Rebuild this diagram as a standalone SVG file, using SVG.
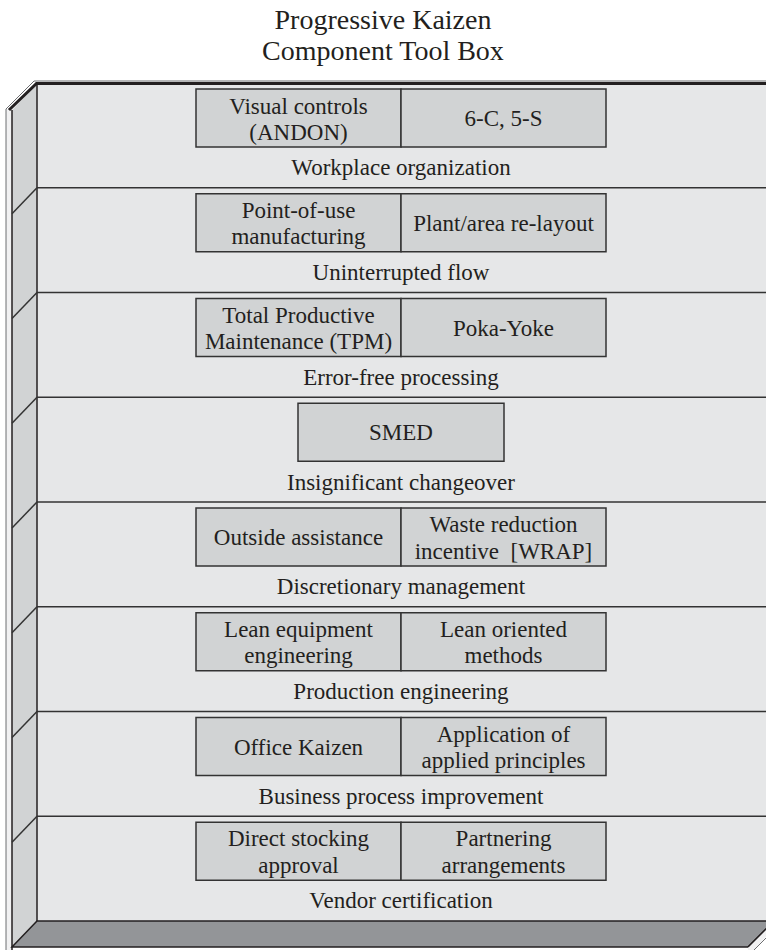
<svg xmlns="http://www.w3.org/2000/svg" width="766" height="950" viewBox="0 0 766 950">
  <style>
    .bg { fill: #ffffff; }
    .panel { fill: #e6e7e8; }
    .side { fill: #d1d3d4; }
    .strip { fill: #f1f1f2; }
    .floor { fill: #939598; stroke: #231f20; stroke-width: 1.5; }
    .edge { fill: none; stroke: #231f20; stroke-width: 1.5; }
    .thin { fill: none; stroke: #6d6e71; stroke-width: 1; }
    .rim { fill: none; stroke: #231f20; stroke-width: 3; }
    .shelf { fill: none; stroke: #333333; stroke-width: 1.5; }
    .box { fill: #d1d3d4; stroke: #333333; stroke-width: 1.5; }
    text { font-family: "Liberation Serif", "Times New Roman", serif; fill: #231f20; text-anchor: middle; }
    .t { font-size: 23px; }
    .title { font-size: 28px; }
  </style>

  <rect class="bg" x="0" y="0" width="766" height="950"/>

  <!-- Title -->
  <g id="title">
    <text class="title" x="383" y="28.5">Progressive Kaizen</text>
    <text class="title" x="383" y="60">Component Tool Box</text>
  </g>

  <!-- Cabinet shell -->
  <g id="cabinet">
    <rect class="panel" x="37" y="84" width="740" height="837"/>
    <polygon class="side" points="12,110 37,84 37,921 12,947"/>
    <rect class="strip" x="6" y="109" width="6" height="841"/>
    <line class="thin" x1="6" y1="109" x2="6" y2="950"/>
    <line class="edge" x1="12" y1="110" x2="12" y2="950"/>
    <line class="edge" x1="37" y1="84" x2="37" y2="921"/>
    <polyline class="thin" points="6,109 34,81 770,81"/>
    <polyline class="rim" points="9,110 36.5,83.5 770,83.5"/>
    <!-- floor and the front edge of the right wall -->
    <polygon class="floor" points="37,921 774,921 748,947 12,947"/>
    <polygon fill="#f1f1f2" points="748,947 774,921 780,921 754,950 748,950"/>
    <line class="edge" x1="748" y1="947" x2="774" y2="921"/>
    <line class="thin" x1="754" y1="950" x2="783" y2="921"/>
    <!-- shelf boards -->
    <g id="shelves">
      <line class="shelf" x1="37" y1="187.75" x2="770" y2="187.75"/>
      <line class="shelf" x1="37" y1="292.5" x2="770" y2="292.5"/>
      <line class="shelf" x1="37" y1="397.25" x2="770" y2="397.25"/>
      <line class="shelf" x1="37" y1="502" x2="770" y2="502"/>
      <line class="shelf" x1="37" y1="606.75" x2="770" y2="606.75"/>
      <line class="shelf" x1="37" y1="711.5" x2="770" y2="711.5"/>
      <line class="shelf" x1="37" y1="816.25" x2="770" y2="816.25"/>
      <line class="shelf" x1="12" y1="213.75" x2="37" y2="187.75"/>
      <line class="shelf" x1="12" y1="318.5" x2="37" y2="292.5"/>
      <line class="shelf" x1="12" y1="423.25" x2="37" y2="397.25"/>
      <line class="shelf" x1="12" y1="528" x2="37" y2="502"/>
      <line class="shelf" x1="12" y1="632.75" x2="37" y2="606.75"/>
      <line class="shelf" x1="12" y1="737.5" x2="37" y2="711.5"/>
      <line class="shelf" x1="12" y1="842.25" x2="37" y2="816.25"/>
    </g>
  </g>

  <!-- Shelf 1 -->
  <g id="visual-controls">
    <rect class="box" x="196" y="89" width="205" height="58"/>
    <text class="t" x="298.5" y="114">Visual controls</text>
    <text class="t" x="298.5" y="140">(ANDON)</text>
  </g>
  <g id="six-c-five-s">
    <rect class="box" x="401" y="89" width="205" height="58"/>
    <text class="t" x="503.5" y="126">6-C, 5-S</text>
  </g>
  <g id="workplace-organization">
    <text class="t" x="401" y="175">Workplace organization</text>
  </g>

  <!-- Shelf 2 -->
  <g id="point-of-use">
    <rect class="box" x="196" y="193.75" width="205" height="58"/>
    <text class="t" x="298.5" y="217.5">Point-of-use</text>
    <text class="t" x="298.5" y="244">manufacturing</text>
  </g>
  <g id="plant-relayout">
    <rect class="box" x="401" y="193.75" width="205" height="58"/>
    <text class="t" x="503.5" y="230.5">Plant/area re-layout</text>
  </g>
  <g id="uninterrupted-flow">
    <text class="t" x="401" y="280">Uninterrupted flow</text>
  </g>

  <!-- Shelf 3 -->
  <g id="tpm">
    <rect class="box" x="196" y="298.5" width="205" height="58"/>
    <text class="t" x="298.5" y="322.5">Total Productive</text>
    <text class="t" x="298.5" y="349">Maintenance (TPM)</text>
  </g>
  <g id="poka-yoke">
    <rect class="box" x="401" y="298.5" width="205" height="58"/>
    <text class="t" x="503.5" y="335.5">Poka-Yoke</text>
  </g>
  <g id="error-free-processing">
    <text class="t" x="401" y="385">Error-free processing</text>
  </g>

  <!-- Shelf 4 -->
  <g id="smed">
    <rect class="box" x="298" y="403.25" width="206" height="58"/>
    <text class="t" x="401" y="440">SMED</text>
  </g>
  <g id="insignificant-changeover">
    <text class="t" x="401" y="489.5">Insignificant changeover</text>
  </g>

  <!-- Shelf 5 -->
  <g id="outside-assistance">
    <rect class="box" x="196" y="508" width="205" height="58"/>
    <text class="t" x="298.5" y="545">Outside assistance</text>
  </g>
  <g id="wrap">
    <rect class="box" x="401" y="508" width="205" height="58"/>
    <text class="t" x="503.5" y="532">Waste reduction</text>
    <text class="t" x="503.5" y="558.5" xml:space="preserve">incentive  [WRAP]</text>
  </g>
  <g id="discretionary-management">
    <text class="t" x="401" y="594">Discretionary management</text>
  </g>

  <!-- Shelf 6 -->
  <g id="lean-equipment">
    <rect class="box" x="196" y="612.75" width="205" height="58"/>
    <text class="t" x="298.5" y="636.5">Lean equipment</text>
    <text class="t" x="298.5" y="663">engineering</text>
  </g>
  <g id="lean-methods">
    <rect class="box" x="401" y="612.75" width="205" height="58"/>
    <text class="t" x="503.5" y="636.5">Lean oriented</text>
    <text class="t" x="503.5" y="663">methods</text>
  </g>
  <g id="production-engineering">
    <text class="t" x="401" y="698.5">Production engineering</text>
  </g>

  <!-- Shelf 7 -->
  <g id="office-kaizen">
    <rect class="box" x="196" y="717.5" width="205" height="58"/>
    <text class="t" x="298.5" y="754.5">Office Kaizen</text>
  </g>
  <g id="applied-principles">
    <rect class="box" x="401" y="717.5" width="205" height="58"/>
    <text class="t" x="503.5" y="741.5">Application of</text>
    <text class="t" x="503.5" y="768">applied principles</text>
  </g>
  <g id="business-process-improvement">
    <text class="t" x="401" y="803.5">Business process improvement</text>
  </g>

  <!-- Shelf 8 -->
  <g id="direct-stocking">
    <rect class="box" x="196" y="822.25" width="205" height="58"/>
    <text class="t" x="298.5" y="846">Direct stocking</text>
    <text class="t" x="298.5" y="872.5">approval</text>
  </g>
  <g id="partnering">
    <rect class="box" x="401" y="822.25" width="205" height="58"/>
    <text class="t" x="503.5" y="846">Partnering</text>
    <text class="t" x="503.5" y="872.5">arrangements</text>
  </g>
  <g id="vendor-certification">
    <text class="t" x="401" y="908">Vendor certification</text>
  </g>
</svg>
